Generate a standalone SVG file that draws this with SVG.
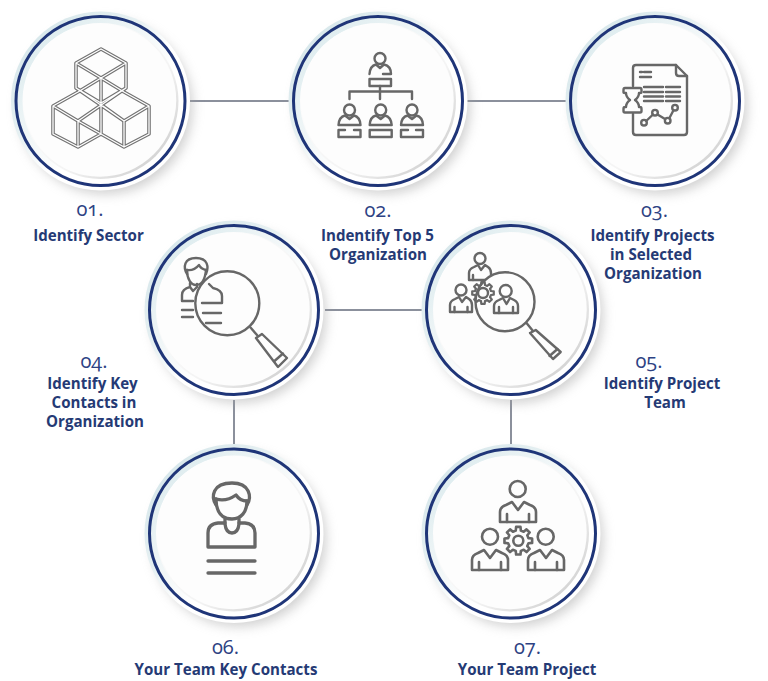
<svg xmlns="http://www.w3.org/2000/svg" width="768" height="681" viewBox="0 0 768 681">
<style>
text{text-anchor:middle;font-family:"Open Sans","Noto Sans","DejaVu Sans",sans-serif}
.n{font-size:20px;fill:#2d4283;font-feature-settings:"onum" 1;font-variant-numeric:oldstyle-nums;font-weight:400}
.t{font-size:15.1px;font-weight:700;fill:#253a75}
.ic{fill:none;stroke:#676767;stroke-width:2.4;stroke-linecap:round;stroke-linejoin:round}
.conn{stroke:#8b909c;stroke-width:2;fill:none}
</style>
<defs>
<linearGradient id="gOuter" x1="0.05" y1="0.1" x2="0.8" y2="0.85"><stop offset="0" stop-color="#d5e6ea"/><stop offset="0.4" stop-color="#e6f0f2"/><stop offset="0.62" stop-color="#fff"/><stop offset="1" stop-color="#fff"/></linearGradient>
<linearGradient id="gInner" x1="0.1" y1="0.1" x2="0.85" y2="0.9"><stop offset="0" stop-color="#dcebee"/><stop offset="0.45" stop-color="#f4f8f9"/><stop offset="0.65" stop-color="#fff"/><stop offset="1" stop-color="#fff"/></linearGradient>
<linearGradient id="gRim" x1="0.15" y1="0.15" x2="0.85" y2="0.85"><stop offset="0" stop-color="#fff"/><stop offset="0.65" stop-color="#f4f4f4"/><stop offset="1" stop-color="#d6d6d6"/></linearGradient>
<filter id="blur" x="-25%" y="-25%" width="150%" height="150%"><feGaussianBlur stdDeviation="6"/></filter>
<g id="disc">
<circle cx="5" cy="6" r="87" fill="#a0a0a0" opacity="0.5" filter="url(#blur)"/>
<circle r="89.500" fill="url(#gOuter)"/>
<circle r="84.500" fill="url(#gInner)" stroke="#1f3578" stroke-width="3"/>
<circle r="78" fill="url(#gRim)"/>
<circle cx="-0.800" cy="-0.800" r="76.500" fill="#fdfdfd"/>
</g>
<polygon id="gear" points="10.19,-2.54 13.83,-2.19 13.83,2.19 10.19,2.54 9,5.41 11.33,8.23 8.23,11.33 5.41,9 2.54,10.19 2.19,13.83 -2.19,13.83 -2.54,10.19 -5.41,9 -8.23,11.33 -11.33,8.23 -9,5.41 -10.19,2.54 -13.83,2.19 -13.83,-2.19 -10.19,-2.54 -9,-5.41 -11.33,-8.23 -8.23,-11.33 -5.41,-9 -2.54,-10.19 -2.19,-13.83 2.19,-13.83 2.54,-10.19 5.41,-9 8.23,-11.33 11.33,-8.23 9,-5.41"/>
<g id="suit"><path d="M0 21V11Q0 6 6 4L12 1L18 9L24 1L30 4Q36 6 36 11V21Z"/><path d="M7 21V13M29 21V13"/></g>
<path id="cubes" d="M101 49L126 63V88L101 103L76 88V63ZM76 63L101 78L126 63M78 92L101 78L124 92M101 78V134M78 92L53 106V134L78 147L101 134L124 147L149 134V106L124 92M53 106L78 121L126 88M78 121V147M78 121L101 134M103 106L124 121L149 106M124 121V147M76 88L124 121"/>
</defs>
<g id="connectors" class="conn">
<path d="M190 101H293"/><path d="M465 101H570"/><path d="M325 310H426"/><path d="M234 400V447"/><path d="M511 400V447"/>
</g>
<g id="node1"><use href="#disc" transform="translate(100.500,101)"/>
<g fill="none" stroke-linejoin="round"><use href="#cubes" stroke="#737373" stroke-width="3.600"/><use href="#cubes" stroke="#fff" stroke-width="1.300"/></g>
<text class="n" x="90" y="216">01.</text><text class="t" x="88.500" y="240.500">Identify Sector</text></g>
<g id="node2"><use href="#disc" transform="translate(378,101)"/>
<g class="ic"><circle cx="380" cy="58.500" r="5.500"/><path d="M369.500 74Q370 66 376 64.500L380 68L384 64.500Q391 66 391 74H383"/><rect x="369.500" y="79" width="21.500" height="7"/><path d="M380 86V99M349.500 99V91.500H412V99"/>
<circle cx="349.500" cy="110" r="5.500"/><path d="M338.500 125Q339 117 345 115.500L349.500 119L354 115.500Q360 117 360.500 125Z"/><path d="M345 130H338.500V137H360.500V130H354"/>
<circle cx="380.700" cy="110" r="5.500"/><path d="M369.700 125Q370 117 376 115.500L380.700 119L385 115.500Q391 117 391.700 125Z"/><rect x="369.700" y="130" width="22" height="7"/>
<circle cx="412" cy="110" r="5.500"/><path d="M401 125Q401.500 117 407.500 115.500L412 119L416.500 115.500Q422.500 117 423 125Z"/><path d="M408 130H401V137H423V130H416"/></g>
<text class="n" x="378" y="217">02.</text><text class="t" x="377.500" y="241">Indentify Top 5</text><text class="t" x="378" y="260">Organization</text></g>
<g id="node3"><use href="#disc" transform="translate(655,101)"/>
<g class="ic"><path d="M633 86V68Q633 65 636 65H676L687 76V132Q687 135 684 135H636Q633 135 633 132V114"/><path d="M676 65V73Q676 76 679 76H687"/>
<path d="M640 72H642M644 72H651M640 77H651"/><path d="M644 87H663M644 92H663M644 96.500H663M644 101H663M666 87H680M666 92H680M666 96.500H680M666 101H680"/>
<path d="M625 88H640Q641.500 88 641.500 90V92Q641.500 93 640 93H639Q639 97 635 100Q639 103 639 107H640Q641.500 107 641.500 109V111Q641.500 112.500 640 112.500H625Q623.500 112.500 623.500 111V109Q623.500 107 625 107H626Q626 103 630 100Q626 97 626 93H625Q623.500 93 623.500 92V90Q623.500 88 625 88Z"/>
<circle cx="644" cy="122.700" r="2.800"/><circle cx="655" cy="112.700" r="2.800"/><circle cx="667.700" cy="120.700" r="2.800"/><circle cx="675" cy="107.700" r="2.800"/><path d="M646.200 121L653 114.500M657.500 114.500L665 119M669.300 118.200L673.500 110.200"/></g>
<text class="n" x="654.500" y="217">03.</text><text class="t" x="652.500" y="241">Identify Projects</text><text class="t" x="651" y="260">in Selected</text><text class="t" x="653" y="279">Organization</text></g>
<g id="node4"><use href="#disc" transform="translate(234,310)"/>
<g class="ic"><path d="M187 274C183 267 184 258 196 258C208 258 209 267 206 274"/><path d="M187 270Q194 271 199 265Q201 269 206 270"/><path d="M187 270C187 279 191 285 196 285C201 285 205 280 206 270"/><path d="M190 283V287L193 291L197 287V284M190 287Q182 289 182 295V301H193"/><path d="M182 310H193M182 317H193"/>
<circle cx="227.300" cy="303.300" r="32" fill="#fdfdfd"/><path d="M209 284L213 288Q222 290 222 296V303H202"/><path d="M203 313H221M206 323H221"/>
<path d="M250.500 327.500L257 335"/><path d="M256 338L262 334L287 358L278 367Z"/><path d="M274.500 361L283 353.500"/></g>
<text class="n" x="94" y="368">04.</text><text class="t" x="92.500" y="389">Identify Key</text><text class="t" x="94" y="408">Contacts in</text><text class="t" x="95" y="427">Organization</text></g>
<g id="node5"><use href="#disc" transform="translate(511,310)"/>
<g class="ic"><circle cx="480" cy="258.500" r="5.500"/><path d="M469 280V273Q469 269 474 267L478 265L481 270L485 265L488 267Q491 269 491 273V280Z"/><path d="M473 280V275"/>
<circle cx="461" cy="290" r="5.500"/><path d="M450 312V305Q450 301 455 299L459 297L462 302L466 297L469 299Q472 301 472 305V312Z"/><path d="M454.500 312V307M467.500 312V307"/>
<circle cx="505" cy="301.700" r="29.500" fill="#fdfdfd"/>
<use href="#gear" transform="translate(483,293) scale(.78)" stroke-width="2.800"/><circle cx="483" cy="293" r="5"/>
<circle cx="505.700" cy="291" r="6"/><path d="M494 313V306Q494 302 499 300L503 298L506.500 304L510 298L514 300Q518 302 518 306V313Z"/><path d="M499 313V307M513 313V307"/>
<path d="M526.500 323L533 331"/><path d="M530 333L535.700 330L560.700 352L553 359Z"/><path d="M549.500 356L557.500 349"/></g>
<text class="n" x="649" y="368">05.</text><text class="t" x="662" y="389">Identify Project</text><text class="t" x="665" y="408">Team</text></g>
<g id="node6"><use href="#disc" transform="translate(234,533.500)"/>
<g class="ic" style="stroke-width:3.300"><path d="M216 505C211 497 212 483 232 483C250 483 252 497 247 505"/><path d="M216 499Q226 502 236 495Q240 501 247 501"/><path d="M216 499C216 512 222 519 232 519C241 519 247 512 247 501"/><path d="M225 519V524Q226 533 232 533Q238 533 239 524V519"/><path d="M225 523H218Q208 524 208 533V547H255V533Q255 524 245 523H239"/><path d="M208 561H255M208 573H255"/></g>
<text class="n" x="225.500" y="654">06.</text><text class="t" x="226" y="675">Your Team Key Contacts</text></g>
<g id="node7"><use href="#disc" transform="translate(511,533.500)"/>
<g class="ic" style="stroke-width:2.600"><circle cx="517.700" cy="489" r="8"/><use href="#suit" transform="translate(500,501)"/><circle cx="490" cy="536.700" r="8"/><use href="#suit" transform="translate(472,549)"/><circle cx="545.700" cy="536.700" r="8"/><use href="#suit" transform="translate(528,549)"/><use href="#gear" transform="translate(518.300,540.700)"/><circle cx="518.300" cy="540.700" r="5"/></g>
<text class="n" x="527.500" y="654">07.</text><text class="t" x="527" y="675">Your Team Project</text></g>
</svg>
